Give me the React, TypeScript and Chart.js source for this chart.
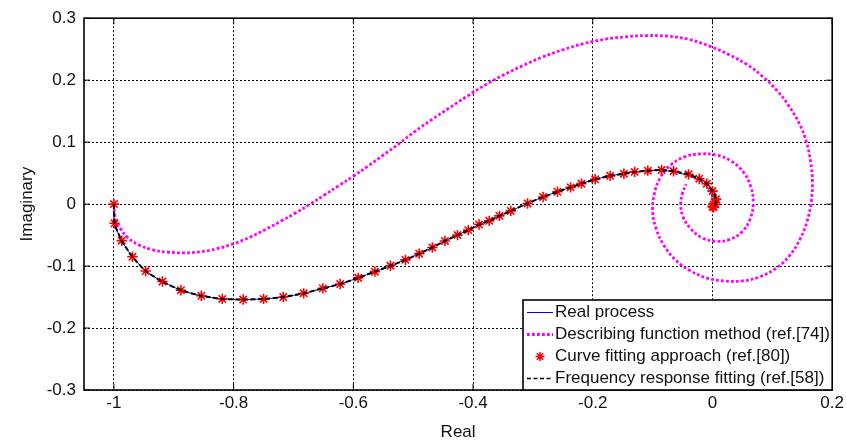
import React, { useEffect, useRef } from "react";
import { Chart, registerables } from "chart.js";
Chart.register(...registerables);

const xTicks = [-1, -0.8, -0.6, -0.4, -0.2, 0, 0.2];
const xTickLabels = ["-1", "-0.8", "-0.6", "-0.4", "-0.2", "0", "0.2"];
const yTicks = [-0.3, -0.2, -0.1, 0, 0.1, 0.2, 0.3];
const yTickLabels = ["-0.3", "-0.2", "-0.1", "0", "0.1", "0.2", "0.3"];
const xTitle = "Real";
const yTitle = "Imaginary";
const legendLabels = [
  "Real process",
  "Describing function method (ref.[74])",
  "Curve fitting approach (ref.[80])",
  "Frequency response fitting (ref.[58])",
];

// Curve fitting approach (stars)
const starX = [-1, -0.999, -0.987, -0.969, -0.947, -0.919, -0.888, -0.854, -0.819, -0.784, -0.75, -0.717, -0.683, -0.651, -0.622, -0.592, -0.564, -0.538, -0.513, -0.49, -0.468, -0.447, -0.426, -0.408, -0.39, -0.373, -0.356, -0.337, -0.309, -0.283, -0.259, -0.237, -0.219, -0.196, -0.171, -0.148, -0.13, -0.108, -0.085, -0.065, -0.04, -0.022, -0.0095, 0.0, 0.006, 0.005, 0.002, 0.0, 0.002];
const starY = [0, -0.031, -0.059, -0.085, -0.108, -0.125, -0.139, -0.148, -0.153, -0.154, -0.153, -0.15, -0.144, -0.136, -0.129, -0.119, -0.109, -0.0995, -0.09, -0.08, -0.07, -0.0595, -0.05, -0.042, -0.033, -0.027, -0.019, -0.011, 0.001, 0.0115, 0.02, 0.027, 0.033, 0.04, 0.0456, 0.049, 0.052, 0.054, 0.055, 0.053, 0.048, 0.041, 0.033, 0.021, 0.008, 0.0, -0.005, -0.004, -0.001];

// Frequency response fitting (black dashed)
const fitX = [-1, -0.999, -0.987, -0.969, -0.947, -0.919, -0.888, -0.854, -0.819, -0.784, -0.75, -0.717, -0.683, -0.651, -0.622, -0.592, -0.564, -0.538, -0.513, -0.49, -0.468, -0.447, -0.426, -0.408, -0.39, -0.373, -0.356, -0.337, -0.309, -0.283, -0.259, -0.237, -0.219, -0.196, -0.171, -0.148, -0.13, -0.108, -0.085, -0.065, -0.04, -0.022, -0.0095, 0.0, 0.006, 0.005, 0.002];
const fitY = [0, -0.031, -0.059, -0.085, -0.108, -0.125, -0.139, -0.148, -0.153, -0.154, -0.153, -0.15, -0.144, -0.136, -0.129, -0.119, -0.109, -0.0995, -0.09, -0.08, -0.07, -0.0595, -0.05, -0.042, -0.033, -0.027, -0.019, -0.011, 0.001, 0.0115, 0.02, 0.027, 0.033, 0.04, 0.0456, 0.049, 0.052, 0.054, 0.055, 0.053, 0.048, 0.041, 0.033, 0.021, 0.008, 0.0, -0.005];

// Real process (blue)
const realX = [-1, -0.999, -0.987, -0.969, -0.947, -0.919, -0.888, -0.854, -0.819, -0.784, -0.75, -0.717, -0.683, -0.651, -0.622, -0.592, -0.564, -0.538, -0.513, -0.49, -0.468, -0.447, -0.426, -0.408, -0.39, -0.373, -0.356, -0.337, -0.309, -0.283, -0.259, -0.237, -0.219, -0.196, -0.171, -0.148, -0.13, -0.108, -0.085, -0.065, -0.04, -0.022, -0.01, -0.003, 0.0, 0.001];
const realY = [0, -0.031, -0.059, -0.085, -0.108, -0.125, -0.139, -0.148, -0.153, -0.154, -0.153, -0.15, -0.144, -0.136, -0.129, -0.119, -0.109, -0.0995, -0.09, -0.08, -0.07, -0.0595, -0.05, -0.042, -0.033, -0.027, -0.019, -0.011, 0.001, 0.0115, 0.02, 0.027, 0.033, 0.04, 0.0456, 0.049, 0.052, 0.054, 0.055, 0.052, 0.046, 0.038, 0.029, 0.018, 0.007, 0.0];

// Describing function method (magenta dotted)
const dfX = [-1, -0.998, -0.99, -0.977, -0.958, -0.935, -0.91, -0.883, -0.856, -0.828, -0.8, -0.772, -0.745, -0.72, -0.696, -0.672, -0.648, -0.624, -0.6, -0.576, -0.55, -0.523, -0.496, -0.468, -0.44, -0.41, -0.38, -0.35, -0.318, -0.285, -0.25, -0.215, -0.18, -0.145, -0.11, -0.075, -0.04, -0.005, 0.028, 0.058, 0.085, 0.108, 0.128, 0.145, 0.157, 0.164, 0.167, 0.165, 0.158, 0.146, 0.129, 0.107, 0.08, 0.05, 0.02, -0.01, -0.038, -0.062, -0.081, -0.094, -0.1, -0.097, -0.087, -0.07, -0.047, -0.02, 0.007, 0.032, 0.052, 0.064, 0.068, 0.063, 0.049, 0.029, 0.005, -0.018, -0.036, -0.049, -0.053, -0.05, -0.044];
const dfY = [0, -0.02, -0.038, -0.054, -0.066, -0.074, -0.0775, -0.0787, -0.077, -0.072, -0.064, -0.053, -0.04, -0.027, -0.014, 0.0, 0.015, 0.03, 0.045, 0.061, 0.079, 0.098, 0.118, 0.137, 0.155, 0.174, 0.192, 0.208, 0.223, 0.237, 0.249, 0.259, 0.266, 0.27, 0.272, 0.271, 0.266, 0.255, 0.241, 0.225, 0.205, 0.183, 0.158, 0.13, 0.1, 0.068, 0.036, 0.004, -0.028, -0.057, -0.083, -0.103, -0.117, -0.124, -0.124, -0.119, -0.107, -0.09, -0.067, -0.04, -0.012, 0.017, 0.043, 0.063, 0.076, 0.081, 0.079, 0.069, 0.051, 0.028, 0.002, -0.024, -0.045, -0.057, -0.06, -0.054, -0.04, -0.021, 0.0, 0.018, 0.032];

const pts = (xs: number[], ys: number[]) => xs.map((x, i) => ({ x, y: ys[i] }));

const FONT = '"Liberation Sans", Arial, sans-serif';
const FS = 17;

const framePlugin = {
  id: "frame",
  afterDraw(chart: any) {
    const { ctx, chartArea: a, scales } = chart;
    const xs = scales.x, ys = scales.y;
    ctx.save();
    ctx.strokeStyle = "#000";
    ctx.lineWidth = 1;
    ctx.setLineDash([]);
    ctx.beginPath();
    xTicks.forEach((v) => {
      const px = xs.getPixelForValue(v);
      ctx.moveTo(px, a.bottom); ctx.lineTo(px, a.bottom - 6);
      ctx.moveTo(px, a.top); ctx.lineTo(px, a.top + 6);
    });
    yTicks.forEach((v) => {
      const py = ys.getPixelForValue(v);
      ctx.moveTo(a.left, py); ctx.lineTo(a.left + 6, py);
      ctx.moveTo(a.right, py); ctx.lineTo(a.right - 6, py);
    });
    ctx.stroke();
    ctx.lineWidth = 1.6;
    ctx.strokeRect(a.left, a.top, a.right - a.left, a.bottom - a.top);

    // legend
    const lx = 523, ly = 300, lw = a.right - 523, lh = a.bottom - 300;
    ctx.fillStyle = "#fff";
    ctx.fillRect(lx, ly, lw, lh);
    ctx.lineWidth = 1.6;
    ctx.strokeStyle = "#000";
    ctx.strokeRect(lx, ly, lw, lh);
    const rows = [312.5, 334.5, 356.5, 378.5];
    ctx.font = `${FS}px ${FONT}`;
    ctx.textBaseline = "middle";
    ctx.textAlign = "left";
    rows.forEach((ry, i) => {
      ctx.save();
      if (i === 0) {
        ctx.strokeStyle = "#0000ff"; ctx.lineWidth = 1; ctx.setLineDash([]);
        ctx.beginPath(); ctx.moveTo(527, ry); ctx.lineTo(553, ry); ctx.stroke();
      } else if (i === 1) {
        ctx.strokeStyle = "#ff00ff"; ctx.lineWidth = 2.8; ctx.setLineDash([2.8, 2.2]);
        ctx.beginPath(); ctx.moveTo(527, ry); ctx.lineTo(553, ry); ctx.stroke();
      } else if (i === 2) {
        ctx.strokeStyle = "#ff0000"; ctx.lineWidth = 1.5;
        const r = 4.5, cx = 540;
        ctx.beginPath();
        for (let k = 0; k < 4; k++) {
          const ang = (k * Math.PI) / 4;
          ctx.moveTo(cx - r * Math.cos(ang), ry - r * Math.sin(ang));
          ctx.lineTo(cx + r * Math.cos(ang), ry + r * Math.sin(ang));
        }
        ctx.stroke();
      } else {
        ctx.strokeStyle = "#000"; ctx.lineWidth = 1.5; ctx.setLineDash([4, 2.5]);
        ctx.beginPath(); ctx.moveTo(527, ry); ctx.lineTo(553, ry); ctx.stroke();
      }
      ctx.restore();
      ctx.fillStyle = "#111";
      ctx.fillText(legendLabels[i], 555, ry);
    });
    ctx.restore();
  },
};

export default function App() {
  const ref = useRef<HTMLCanvasElement>(null);
  useEffect(() => {
    const chart = new Chart(ref.current as HTMLCanvasElement, {
      type: "scatter",
      data: {
        datasets: [
          {
            label: legendLabels[3],
            data: pts(fitX, fitY),
            showLine: true,
            borderColor: "#000",
            borderWidth: 2,
            borderDash: [5, 2.5],
            pointRadius: 0,
            tension: 0.2,
          },
          {
            label: legendLabels[2],
            data: pts(starX, starY),
            showLine: false,
            pointStyle: "star",
            pointRadius: 5.2,
            borderColor: "#ff0000",
            backgroundColor: "#ff0000",
            pointBorderWidth: 1.6,
          },
          {
            label: legendLabels[1],
            data: pts(dfX, dfY),
            showLine: true,
            borderColor: "#ff00ff",
            borderWidth: 2.8,
            borderDash: [2.8, 2.2],
            pointRadius: 0,
            tension: 0.4,
          },
          {
            label: legendLabels[0],
            data: pts(realX, realY),
            showLine: true,
            borderColor: "#0000ff",
            borderWidth: 1,
            pointRadius: 0,
            tension: 0.2,
          },
        ],
      } as any,
      options: {
        animation: false,
        responsive: false,
        events: [],
        layout: { padding: { top: 15, right: 13, left: 0, bottom: 0 } },
        plugins: { legend: { display: false }, tooltip: { enabled: false } },
        scales: {
          x: {
            type: "linear",
            min: -1.05,
            max: 0.2,
            afterBuildTicks: (s: any) => { s.ticks = xTicks.map((v) => ({ value: v })); },
            afterFit: (s: any) => { s.height = 55; },
            ticks: {
              padding: 3,
              color: "#111",
              font: { family: FONT, size: FS },
              maxRotation: 0,
              autoSkip: false,
              callback: (v: any) => { const i = xTicks.indexOf(Number(v)); return i >= 0 ? xTickLabels[i] : ""; },
            },
            grid: { color: "#000", lineWidth: 1, drawTicks: false },
            border: { display: false, dash: [2, 2] },
            title: { display: true, text: xTitle, color: "#111", font: { family: FONT, size: FS }, padding: { top: 0, bottom: 2 } },
          },
          y: {
            type: "linear",
            min: -0.3,
            max: 0.3,
            afterBuildTicks: (s: any) => { s.ticks = yTicks.map((v) => ({ value: v })); },
            afterFit: (s: any) => { s.width = 84; },
            ticks: {
              padding: 8,
              color: "#111",
              font: { family: FONT, size: FS },
              autoSkip: false,
              callback: (v: any) => { const i = yTicks.indexOf(Number(v)); return i >= 0 ? yTickLabels[i] : ""; },
            },
            grid: { color: "#000", lineWidth: 1, drawTicks: false },
            border: { display: false, dash: [2, 2] },
            title: { display: true, text: yTitle, color: "#111", font: { family: FONT, size: FS }, padding: { top: 17, bottom: 0 } },
          },
        },
      } as any,
      plugins: [framePlugin],
    });
    return () => chart.destroy();
  }, []);
  return (
    <canvas
      ref={ref}
      width={847}
      height={445}
      style={{ position: "fixed", left: 0, top: 0, width: 847, height: 445, display: "block" }}
    />
  );
}
